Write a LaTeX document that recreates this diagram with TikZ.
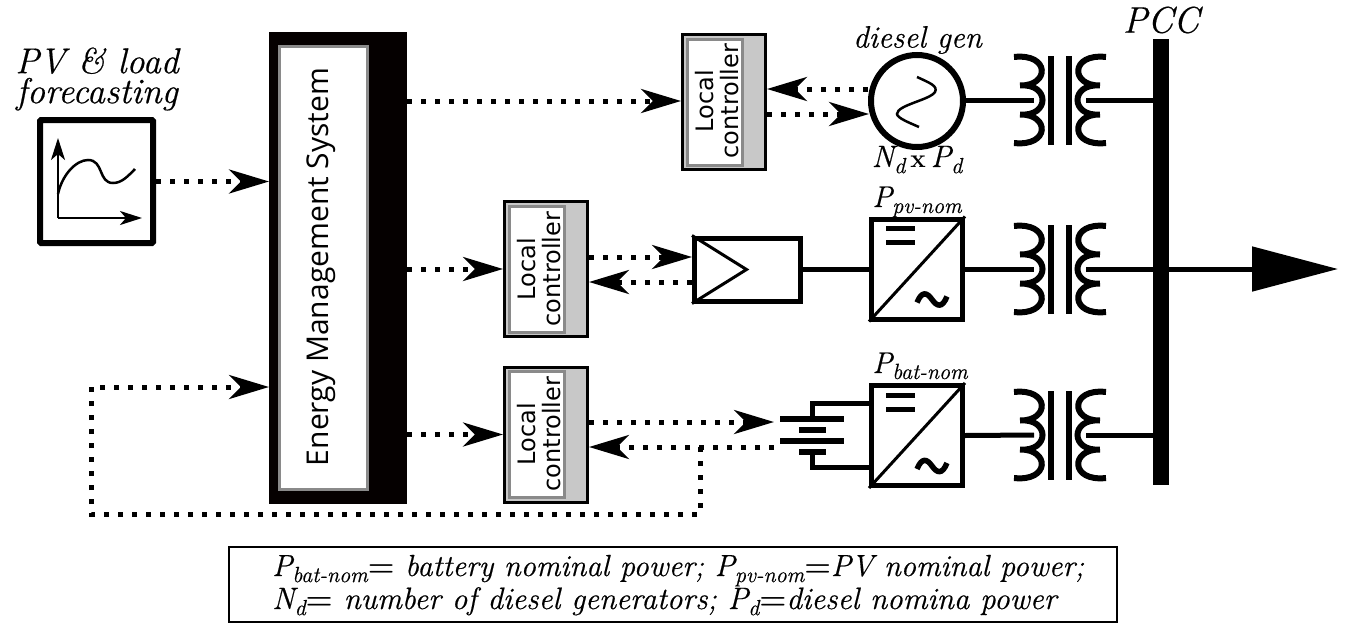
\documentclass[tikz,border=0pt]{standalone}
\usepackage{fontspec}
\usetikzlibrary{arrows.meta,calc}
\newfontfamily\emsfont{Open Sans}
\newfontfamily\lcfont{DejaVu Sans}
\newfontfamily\lblfont{Latin Modern Roman}[ItalicFeatures={FakeBold=0.5},UprightFeatures={FakeBold=0.8}]
\newcommand{\lowsub}[2][22]{\raisebox{-0.2em}{\fontsize{#1}{#1}\selectfont #2}}
\definecolor{lcgray}{HTML}{C8C8C8}
\definecolor{edgegray}{HTML}{8A8A8A}
\definecolor{nearblack}{HTML}{050000}
\tikzset{
  x=1pt,y=-1pt,
  dotline/.style={line width=5pt,dash pattern=on 5pt off 9pt,-{Stealth[length=40pt,width=24pt,inset=12pt]}},
  wire/.style={line width=5pt},
  lcbox/.style={draw=black,fill=lcgray,line width=3pt,minimum width=83pt,minimum height=135pt,inner sep=0pt},
  lcinner/.style={draw=edgegray,fill=white,line width=3pt,minimum width=55pt,minimum height=126pt,inner sep=0pt},
  conv/.style={draw=black,fill=white,line width=5pt,minimum width=91pt,minimum height=100pt,inner sep=0pt},
  lbl/.style={font=\lblfont\itshape\fontsize{30}{30}\selectfont,inner sep=0pt},
  lctext/.style={font=\lcfont\fontsize{24}{25}\selectfont,rotate=90,inner sep=0pt,align=center}
}
\newcommand{\trafo}[2]{%
  \begin{scope}[shift={(1014,#2)},line width=6pt]
    \draw (0,-43) .. controls (36,-47) and (36,-14) .. (6,-14.5)
       .. controls (36,-17) and (36,17) .. (6,14.5)
       .. controls (36,14) and (36,47) .. (0,43);
    \draw (92,-43) .. controls (56,-47) and (56,-14) .. (86,-14.5)
       .. controls (56,-17) and (56,17) .. (86,14.5)
       .. controls (56,14) and (56,47) .. (92,43);
    \draw[line width=6pt] (36.5,-44) -- (36.5,45);
    \draw[line width=6pt] (54.5,-44) -- (54.5,45);
    \coordinate (#1l) at (20,0);
    \coordinate (#1r) at (72,0);
  \end{scope}}
\newcommand{\convmarks}[1]{%
  \draw[line width=3pt] (#1.south west) -- (#1.north east);
  \draw[line width=5pt] ($(#1.north west)+(17,12)$) -- ++(29,0);
  \draw[line width=5pt] ($(#1.north west)+(17,26)$) -- ++(29,0);
  \draw[line width=5.5pt] ($(#1.south east)+(-48,-19)$) .. controls +(5,-12) and +(-5,-7) .. ++(15,-3)
     .. controls +(5,7) and +(-5,12) .. ++(15,-3);}
\begin{document}
\begin{tikzpicture}
\useasboundingbox (0,0) rectangle (1354,624);
% forecasting
\node[lbl,align=center,font=\lblfont\itshape\fontsize{36}{30}\selectfont] (fc) at (97,79) {PV \& load\\forecasting};
\node[draw,fill=white,line width=6pt,minimum width=113pt,minimum height=123pt,rounded corners=1pt] (pv) at (96.5,181.5) {};
\coordinate (ox) at (58,218);
\coordinate (oy) at (142,218);
\coordinate (oz) at (58,138);
\draw[line width=2.5pt,-{Stealth[length=22pt,width=14pt,inset=6pt]}] (ox) -- (oz);
\draw[line width=2.5pt,-{Stealth[length=22pt,width=14pt,inset=6pt]}] (ox) -- (oy);
\draw[line width=2.5pt] (58,194) .. controls (62,175) and (76,160) .. (88,160) .. controls (104,160) and (98,183) .. (113,183) .. controls (122,183) and (128,176) .. (135,169);
% EMS
\node[draw=nearblack,fill=nearblack,line width=1pt,minimum width=137pt,minimum height=471pt,inner sep=0pt] (ems) at (338,268) {};
\node[draw=edgegray,fill=white,line width=3pt,minimum width=88pt,minimum height=443pt,inner sep=0pt] (emsi) at (323,268) {};
\node[font=\emsfont\fontsize{30}{30}\selectfont,rotate=90,inner sep=0pt] (emst) at (321,267) {Energy Management System};
% local controllers
\node[lcbox] (lc1) at (724,102) {};
\node[lcinner] (lc1i) at (715,102) {};
\node[lctext] (lc1t) at (717,101) {Local\\controller};
\node[lcbox] (lc2) at (546,269) {};
\node[lcinner] (lc2i) at (537,269) {};
\node[lctext] (lc2t) at (539,269) {Local\\controller};
\node[lcbox] (lc3) at (546,434.5) {};
\node[lcinner] (lc3i) at (537,434.5) {};
\node[lctext] (lc3t) at (539,434) {Local\\controller};
% generator
\node[draw,fill=white,circle,line width=6pt,minimum size=92pt,inner sep=0pt] (gen) at (917,101) {};
\draw[line width=2.5pt] (917,77) .. controls (930,83) and (938,86) .. (935,92) .. controls (930,100) and (897,105) .. (897,114) .. controls (897,118) and (910,123) .. (919,127);
\node[lbl,font=\lblfont\itshape\fontsize{31}{31}\selectfont] (gent) at (917.5,40) {diesel gen};
\node[lbl,anchor=base,font=\lblfont\itshape\fontsize{31}{31}\selectfont] (gens) at (917,167) {N\lowsub[22]{d}\hspace{5pt}{\upshape\bfseries\fontsize{26}{26}\selectfont x}\hspace{5pt}P\lowsub[22]{d}};
% PV panel
\node[draw,fill=white,line width=5pt,minimum width=106pt,minimum height=63pt,inner sep=0pt] (panel) at (747.5,269.5) {};
\draw[line width=3pt] (panel.north west) -- (746.5,269.5) -- (panel.south west);
% converters
\node[conv] (c2) at (917,269) {};
\node[conv] (c3) at (917,435.5) {};
\node[lbl,anchor=base] (c2t) at (917,207) {P\lowsub{pv-nom}};
\node[lbl,anchor=base] (c3t) at (920,373) {P\lowsub{bat-nom}};
% bus
\node[fill=black,minimum width=16pt,minimum height=446pt,inner sep=0pt] (bus) at (1161,262) {};
\node[lbl,font=\lblfont\itshape\fontsize{37}{37}\selectfont] (pcc) at (1161,20) {PCC};
% transformers
\trafo{ta}{100}
\trafo{tb}{269}
\trafo{tc}{435}
% power wires
\draw[wire] (gen.east |- tal) -- (tal);
\draw[wire] (tar) -- (tar -| bus.west);
\draw[wire] (panel.east) -- (c2.west |- panel.east);
\draw[wire] (c2.east) -- (tbl);
\draw[wire] (c3.east) -- (tcl);
\draw[wire] (tcr) -- (tcr -| bus.west);
\coordinate (tip) at (1338,269);
\draw[line width=5pt,-{Triangle[length=86pt,width=44pt]}] (tbr) -- (tip);
\convmarks{c2}
\convmarks{c3}
% battery
\coordinate (ba) at (812,419);
\coordinate (bb) at (812,452);
\draw[wire] (ba) |- (c3.west |- 0,403);
\draw[wire] (bb) |- (c3.west |- 0,467);
\coordinate (b1l) at (780,419); \coordinate (b1r) at (844,419);
\coordinate (b2l) at (799,430); \coordinate (b2r) at (826,430);
\coordinate (b3l) at (780,441); \coordinate (b3r) at (844,441);
\coordinate (b4l) at (799,452); \coordinate (b4r) at (826,452);
\draw[line width=6pt] (b1l) -- (b1r) (b2l) -- (b2r) (b3l) -- (b3r) (b4l) -- (b4r);
% signal arrows
\draw[dotline] (pv.east) -- (ems.west |- pv.east);
\draw[dotline] (ems.east |- 0,101) -- (lc1.west |- 0,101);
\draw[dotline] (gen.west |- 0,89) -- (lc1.east |- 0,89);
\draw[dotline] (lc1.east |- 0,114) -- ($(gen.west |- 0,114)+(1,0)$);
\draw[dotline] (ems.east |- lc2.west) -- (lc2.west);
\draw[dotline] (lc2.east |- 0,257) -- (panel.west |- 0,257);
\draw[dotline] (panel.west |- 0,282) -- (lc2.east |- 0,282);
\draw[dotline] (ems.east |- lc3.west) -- (lc3.west);
\coordinate (bw) at (774,422);
\coordinate (be) at (774,447);
\draw[dotline] (lc3.east |- bw) -- (bw);
\draw[dotline] (be) -- (lc3.east |- be);
\coordinate (br) at (700,447);
\coordinate (brb) at (700,514);
\coordinate (bl) at (91,514);
\coordinate (blt) at (91,387);
\draw[dotline] (br) -- (brb) -- (bl) -- (blt) -- (blt -| ems.west);
% legend
\node[draw,line width=2pt,minimum width=888pt,minimum height=75pt,inner sep=0pt] (leg) at (673,584.5) {};
\node[lbl,anchor=base west,font=\lblfont\itshape\fontsize{30.5}{30.5}\selectfont] (l1) at (272,576) {P\lowsub{bat-nom}{\bfseries\upshape=} battery nominal power; P\lowsub{pv-nom}{\bfseries\upshape=}PV nominal power;};
\node[lbl,anchor=base west,font=\lblfont\itshape\fontsize{31}{31}\selectfont] (l2) at (272,609) {N\lowsub{d}{\bfseries\upshape=} number of diesel generators; P\lowsub{d}{\bfseries\upshape=}diesel nomina power};
\end{tikzpicture}
\end{document}
